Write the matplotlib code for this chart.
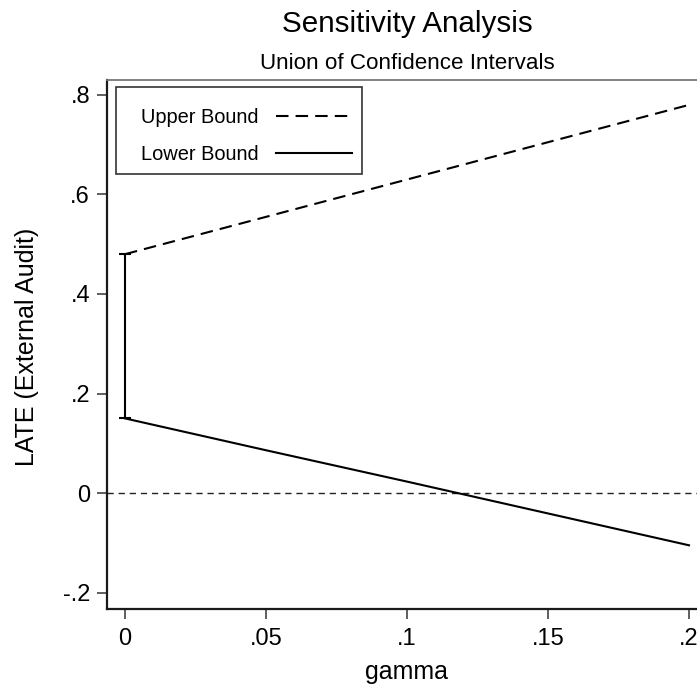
import matplotlib
matplotlib.use("Agg")
import matplotlib.pyplot as plt
from matplotlib.lines import Line2D
from matplotlib.patches import Rectangle

# Bounds of the LATE as a function of the sensitivity parameter gamma
gamma = [0.0, 0.05, 0.10, 0.15, 0.20]
upper_bound = [0.480, 0.555, 0.630, 0.705, 0.780]
lower_bound = [0.150, 0.086, 0.023, -0.041, -0.105]

series_labels = ["Upper Bound", "Lower Bound"]
x_ticks = [0.0, 0.05, 0.10, 0.15, 0.20]
x_tick_labels = ["0", ".05", ".1", ".15", ".2"]
y_ticks = [-0.2, 0.0, 0.2, 0.4, 0.6, 0.8]
y_tick_labels = ["-.2", "0", ".2", ".4", ".6", ".8"]

W, H = 697, 692
plt.rcParams["font.family"] = ["Liberation Sans", "DejaVu Sans"]

fig = plt.figure(figsize=(W / 100, H / 100), dpi=100)
fig.patch.set_facecolor("white")
# plot region runs slightly past the right edge of the canvas
ax = fig.add_axes([107 / W, 1 - 609 / H, 600 / W, 529 / H])
ax.set_xlim(-0.00638, 0.20638)
ax.set_ylim(-0.233, 0.830)

line_kw = dict(color="black", lw=1.5)
upper_dashes = (6.0, 3.4)

ax.axhline(0, color="#222222", lw=1.0, dashes=(4.5, 3.5), zorder=1)
ax.plot(gamma, upper_bound, dashes=upper_dashes, **line_kw, zorder=3)
ax.plot(gamma, lower_bound, **line_kw, zorder=3)

# interval at gamma = 0
mid = (upper_bound[0] + lower_bound[0]) / 2
half = (upper_bound[0] - lower_bound[0]) / 2
ax.errorbar([gamma[0]], [mid], yerr=[half], fmt="none", ecolor="black",
            elinewidth=1.5, capsize=4, capthick=1.5, zorder=3)

ax.set_xticks(x_ticks)
ax.set_xticklabels(x_tick_labels)
ax.set_yticks(y_ticks)
ax.set_yticklabels(y_tick_labels)

ax.tick_params(axis="both", direction="out", length=7.2, width=1.1,
               color="#333333", labelsize=17, labelcolor="black")
ax.tick_params(axis="x", pad=6.5)
ax.tick_params(axis="y", pad=5)

for side in ("left", "bottom"):
    ax.spines[side].set_color("#1a1a1a")
    ax.spines[side].set_linewidth(1.6)
ax.spines["top"].set_color("#777777")
ax.spines["top"].set_linewidth(1.3)
ax.spines["right"].set_visible(False)

ax.set_xlabel("gamma", fontsize=18)
ax.xaxis.set_label_coords(0.5, (609 - 679) / 529)
ax.xaxis.label.set_va("baseline")
ax.set_ylabel("LATE (External Audit)", fontsize=18)
ax.yaxis.set_label_coords((27 - 107) / 600, (609 - 347) / 529)
ax.yaxis.label.set_va("center")

# legend: keys to the right of the labels, inside a plain box
legend_box = Rectangle((116 / W, 1 - 174 / H), 246 / W, 87 / H,
                       transform=fig.transFigure, facecolor="white",
                       edgecolor="#333333", lw=1.2, zorder=4)
ax.add_artist(legend_box)

handles = [Line2D([], [], dashes=upper_dashes, **line_kw),
           Line2D([], [], **line_kw)]
leg = ax.legend(handles, series_labels, loc="upper left",
                bbox_to_anchor=(141 / W, 1 - 108 / H),
                bbox_transform=fig.transFigure, borderaxespad=0,
                markerfirst=False, fontsize=14.4, handlelength=3.8,
                handletextpad=0.85, borderpad=0, labelspacing=0.9,
                frameon=False)
leg.set_zorder(5)

fig.text(407 / W, 1 - 32 / H, "Sensitivity Analysis", ha="center",
         va="baseline", fontsize=21.3)
fig.text(407 / W, 1 - 69 / H, "Union of Confidence Intervals", ha="center",
         va="baseline", fontsize=16.1)

fig.savefig("out.png", dpi=100)
